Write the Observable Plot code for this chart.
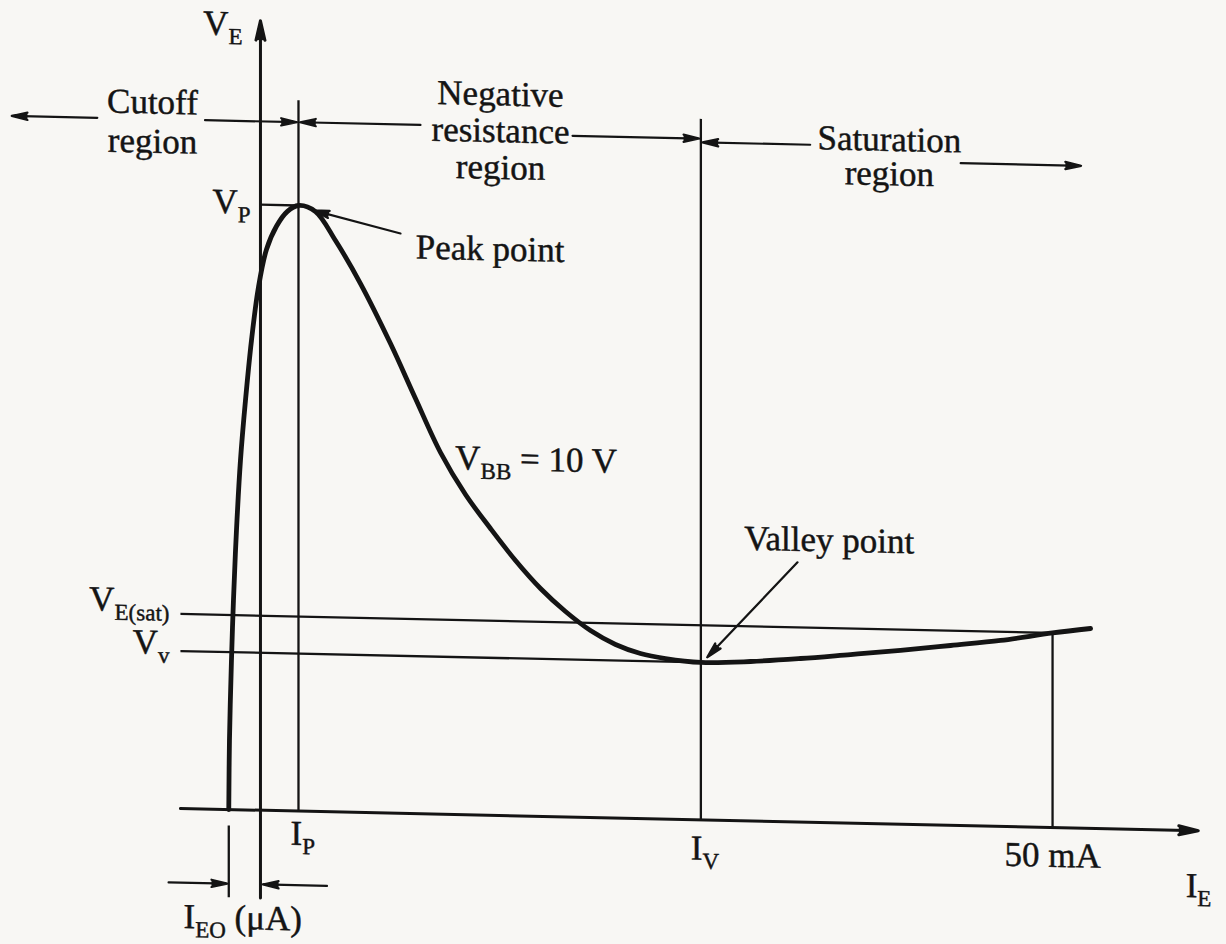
<!DOCTYPE html>
<html><head><meta charset="utf-8">
<script src="https://cdn.jsdelivr.net/npm/d3@7"></script>
<script src="https://cdn.jsdelivr.net/npm/@observablehq/plot@0.6"></script>
<style>
html,body{margin:0;padding:0;background:#f8f7f4;}
#chart svg{display:block;transform:skewY(1.25deg);transform-origin:180px 0px;}
</style></head>
<body><div id="chart"></div>
<script>
// ---- characteristic points (schematic units: I_E along x, V_E along y) ----
const I_EO = -2.0;              // leakage current where the curve leaves the axis
const I_P = 2.4, V_P = 8.0;     // peak point
const I_V = 27.8, V_V = 2.08;   // valley point
const I_50 = 50, V_ESAT = 2.57; // 50 mA point / saturation voltage
const I_MIN = -5.05, I_MAX = 59.2;  // extent of the I_E axis
const V_MIN = -1.16, V_MAX = 10.43; // extent of the V_E axis
const V_REGION = 9.1;           // height of the region markers

// ---- the V_E – I_E curve (V_BB = 10 V) ----
const curveI = [-2.0, -1.957, -1.831, -1.705, -1.515, -1.263, -0.947, -0.568, -0.126, 0.379, 1.01, 1.705, 2.4,
  3.472, 4.735, 6.313, 8.207, 9.785, 11.364, 12.942, 14.52, 16.098, 17.677, 19.255, 20.833, 22.412, 23.99, 25.568, 27.8,
  30.934, 34.091, 37.247, 40.404, 43.56, 46.717, 50, 52.4];
const curveV = [0, 0.913, 1.97, 2.763, 3.689, 4.614, 5.408, 6.202, 6.91, 7.41, 7.72, 7.92, 8.0,
  7.925, 7.548, 6.987, 6.203, 5.484, 4.778, 4.23, 3.788, 3.373, 3.01, 2.713, 2.469, 2.292, 2.18, 2.121, 2.08,
  2.106, 2.16, 2.227, 2.295, 2.375, 2.456, 2.57, 2.64];

// ---- text ----
const regionLabels = ["Cutoff\nregion", "Negative\nresistance\nregion", "Saturation\nregion"];
const pointLabels = ["Peak point", "Valley point", "V_{BB} = 10 V"];
const yLabels = ["V_{P}", "V_{E(sat)}", "V_{v}"];
const xLabels = ["I_{P}", "I_{V}", "50 mA"];
const axisLabels = ["V_{E}", "I_{E}", "I_{EO} (μA)"];

const curve = curveI.map((x, i) => ({x, y: curveV[i]}));

const guides = [
  {x1: 0, y1: V_P, x2: I_P, y2: V_P},
  {x1: I_MIN, y1: V_ESAT, x2: I_50, y2: V_ESAT},
  {x1: I_MIN, y1: V_V, x2: I_V, y2: V_V},
  {x1: I_P, y1: 0, x2: I_P, y2: 9.39},
  {x1: I_V, y1: 0, x2: I_V, y2: 9.26},
  {x1: I_50, y1: 0, x2: I_50, y2: V_ESAT},
  {x1: I_EO, y1: -0.21, x2: I_EO, y2: V_MIN}
];
const axes = [
  {x1: 0, y1: V_MIN, x2: 0, y2: V_MAX},
  {x1: I_MIN, y1: 0, x2: I_MAX, y2: 0}
];
const regionArrows = [
  {x1: -10.3, y1: V_REGION, x2: -15.7, y2: V_REGION},
  {x1: -3.5, y1: V_REGION, x2: I_P - 0.1, y2: V_REGION},
  {x1: 10.1, y1: V_REGION, x2: I_P + 0.1, y2: V_REGION},
  {x1: 19.7, y1: 9.0, x2: I_V - 0.1, y2: 9.0},
  {x1: 34.7, y1: 8.95, x2: I_V + 0.1, y2: 8.95},
  {x1: 44.2, y1: 8.75, x2: 51.8, y2: 8.75}
];
const leaders = [
  {x1: 8.84, y1: 7.66, x2: 3.35, y2: 7.94},
  {x1: 33.9, y1: 3.43, x2: 28.2, y2: 2.15}
];
const ieoArrows = [
  {x1: -5.8, y1: -0.98, x2: I_EO - 0.1, y2: -0.98},
  {x1: 4.2, y1: -0.98, x2: 0.15, y2: -0.98}
];

const FONT = "'Liberation Serif', 'Times New Roman', serif";
const SIZE = 35, SUB = 23, SHIFT = 9;
const INK = "#141414";

const txt = (s, x, y, o = {}) => Plot.text([s], {x: [x], y: [y], text: d => d, fontSize: SIZE, fill: INK, stroke: INK, strokeWidth: 0.45, ...o});
const arrowOpts = {x1: "x1", y1: "y1", x2: "x2", y2: "y2", stroke: INK, fill: INK, strokeWidth: 2.2, headLength: 11, headAngle: 26};

const chart = Plot.plot({
  width: 1226, height: 944, margin: 0,
  x: {domain: [-16.41, 60.98], axis: null},
  y: {domain: [-1.797, 10.674], axis: null},
  style: {background: "transparent", fontFamily: FONT, color: INK, overflow: "visible"},
  marks: [
    Plot.link(guides, {x1: "x1", y1: "y1", x2: "x2", y2: "y2", stroke: INK, strokeWidth: 2.3}),
    Plot.arrow(axes, {...arrowOpts, strokeWidth: 3, headLength: 10, headAngle: 26}),
    Plot.line(curve, {x: "x", y: "y", curve: "catmull-rom", stroke: INK, strokeWidth: 4.8}),
    Plot.arrow(regionArrows, arrowOpts),
    Plot.arrow(leaders, arrowOpts),
    Plot.arrow(ieoArrows, arrowOpts),
    // region labels
    txt(regionLabels[0], -6.82, 9.08, {lineHeight: 1.12}),
    txt(regionLabels[1], 15.15, 9.05, {lineHeight: 1.05}),
    txt(regionLabels[2], 39.7, 8.81, {lineHeight: 0.98}),
    // point labels
    txt(pointLabels[0], 9.8, 7.48, {textAnchor: "start"}),
    txt(pointLabels[1], 35.9, 3.73),
    txt(pointLabels[2], 12.3, 4.71, {textAnchor: "start"}),
    // y-side labels
    txt(yLabels[0], 0, V_P, {textAnchor: "end", dx: -10, dy: -2}),
    txt(yLabels[1], I_MIN, V_ESAT, {textAnchor: "end", dx: -11, dy: -13}),
    txt(yLabels[2], I_MIN, V_V, {textAnchor: "end", dx: -11, dy: -8}),
    // x-side labels
    txt(xLabels[0], I_P, -0.3, {textAnchor: "start", dx: -8}),
    txt(xLabels[1], I_V, -0.38, {textAnchor: "start", dx: -10}),
    txt(xLabels[2], I_50, -0.37),
    // axis labels
    txt(axisLabels[0], 0, 10.38, {textAnchor: "end", dx: -18}),
    txt(axisLabels[1], 58.4, -0.73, {textAnchor: "start"}),
    txt(axisLabels[2], -4.86, -1.43, {textAnchor: "start"})
  ]
});

// render "_{...}" as real subscripts
for (const t of chart.querySelectorAll("text")) {
  const s = t.textContent;
  if (!s.includes("_{")) continue;
  const parts = s.split(/(_\{[^}]*\})/).filter(p => p);
  t.textContent = "";
  let shifted = false;
  for (const p of parts) {
    const ts = document.createElementNS("http://www.w3.org/2000/svg", "tspan");
    if (p.startsWith("_{")) {
      ts.textContent = p.slice(2, -1);
      ts.setAttribute("font-size", SUB);
      ts.setAttribute("dy", SHIFT);
      shifted = true;
    } else {
      ts.textContent = p;
      if (shifted) { ts.setAttribute("dy", -SHIFT); shifted = false; }
    }
    t.appendChild(ts);
  }
}

document.getElementById("chart").appendChild(chart);
</script>
</body></html>
